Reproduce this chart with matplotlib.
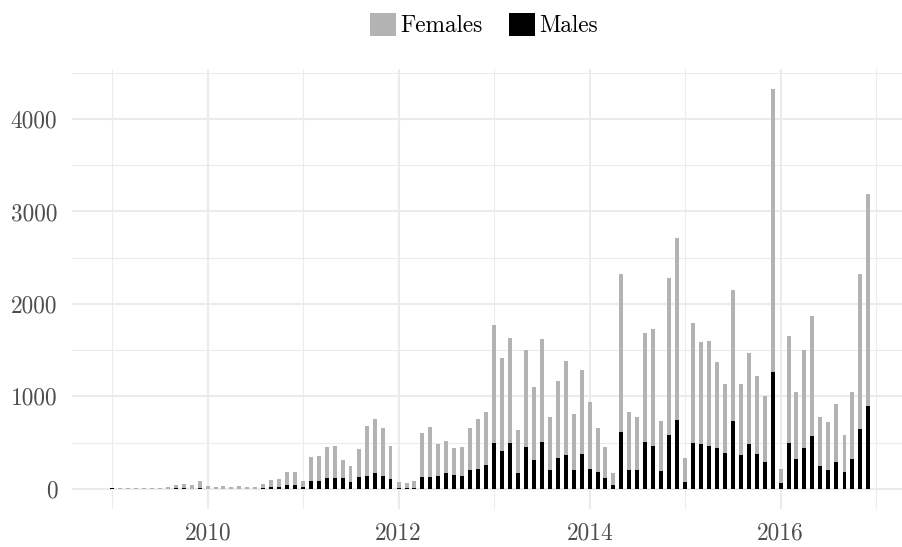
import datetime as dt
import numpy as np
import pandas as pd
import matplotlib
matplotlib.use("Agg")
import matplotlib.pyplot as plt
import matplotlib.dates as mdates
from matplotlib.patches import Patch

plt.rcParams['font.family'] = ['cmr10', 'DejaVu Serif']
plt.rcParams['axes.formatter.use_mathtext'] = True

# ===== data: monthly totals (top of bar) and males, Jan 2009 .. Dec 2016 =====
months = pd.date_range("2009-01-01", periods=96, freq="MS")

totals = [
    8, 7, 7, 7, 7, 7, 7, 18, 40, 50, 40, 83,                          # 2009
    29, 18, 29, 18, 29, 18, 18, 50, 94, 105, 180, 180,                # 2010
    83, 343, 354, 451, 462, 310, 245, 430, 679, 755, 657, 462,        # 2011
    72, 61, 83, 603, 668, 484, 516, 440, 451, 657, 755, 830,          # 2012
    1773, 1415, 1632, 635, 1502, 1101, 1621, 776, 1166, 1383, 809, 1285,   # 2013
    939, 657, 451, 170, 2325, 830, 776, 1686, 1729, 733, 2282, 2715,       # 2014
    332, 1794, 1588, 1599, 1372, 1134, 2152, 1134, 1469, 1220, 1004, 4329, # 2015
    213, 1653, 1047, 1502, 1870, 776, 722, 917, 581, 1047, 2325, 3191,     # 2016
]
males = [
    7, 0, 0, 0, 0, 0, 0, 0, 10, 10, 0, 10,
    0, 0, 0, 0, 0, 0, 0, 11, 22, 22, 40, 40,
    22, 83, 83, 116, 116, 116, 72, 126, 137, 170, 137, 105,
    11, 7, 11, 126, 126, 137, 170, 148, 137, 202, 213, 256,
    495, 408, 495, 170, 451, 310, 505, 202, 332, 365, 202, 375,
    213, 181, 116, 40, 614, 202, 202, 505, 462, 191, 581, 744,
    72, 495, 484, 462, 440, 386, 733, 365, 484, 375, 289, 1264,
    61, 495, 321, 440, 570, 245, 202, 289, 181, 321, 646, 895,
]
females = [t - m for t, m in zip(totals, males)]

GREY = "#B3B3B3"
GRID = "#EBEBEB"
TXT = "#4D4D4D"
FS = 16.8

fig = plt.figure(figsize=(9.02, 5.47), dpi=100)
ax = fig.add_axes([72 / 902, 38.3 / 547, 830 / 902, 440 / 547])

x = mdates.date2num(months.to_pydatetime())
ax.bar(x, males, width=15, color="black", linewidth=0, zorder=2)
ax.bar(x, females, width=15, bottom=males, color=GREY, linewidth=0, zorder=2)

# ===== axes, grid =====
d0 = mdates.date2num(dt.datetime(2009, 1, 1))
d1 = mdates.date2num(dt.datetime(2017, 1, 1))
ax.set_xlim(d0 - 154, d1 + 98)
ax.set_ylim(-216, 4545)

ax.set_xticks([mdates.date2num(dt.datetime(y, 1, 1)) for y in [2010, 2012, 2014, 2016]])
ax.set_xticklabels(["2010", "2012", "2014", "2016"])
ax.set_xticks([mdates.date2num(dt.datetime(y, 1, 1)) for y in [2009, 2011, 2013, 2015, 2017]], minor=True)
ax.set_yticks([0, 1000, 2000, 3000, 4000])
ax.set_yticklabels(["0", "1000", "2000", "3000", "4000"])
ax.set_yticks([500, 1500, 2500, 3500, 4500], minor=True)

ax.grid(which="major", color=GRID, linewidth=1.45)
ax.grid(which="minor", color=GRID, linewidth=0.75)
ax.set_axisbelow(True)
for s in ax.spines.values():
    s.set_visible(False)
ax.tick_params(which="both", length=0)
ax.tick_params(axis="x", pad=9.5, labelsize=FS, labelcolor=TXT)
ax.tick_params(axis="y", pad=10.5, labelsize=FS, labelcolor=TXT)

# ===== legend =====
handles = [Patch(facecolor=GREY, edgecolor="none", label="Females"),
           Patch(facecolor="black", edgecolor="none", label="Males")]
fig.legend(handles=handles, loc="center", bbox_to_anchor=(484 / 902, 1 - 25.3 / 547),
           ncol=2, frameon=False, fontsize=FS, handlelength=1.11, handleheight=1.11,
           handletextpad=0.19, columnspacing=1.15, borderpad=0, borderaxespad=0)

plt.savefig("out.png", dpi=100)
